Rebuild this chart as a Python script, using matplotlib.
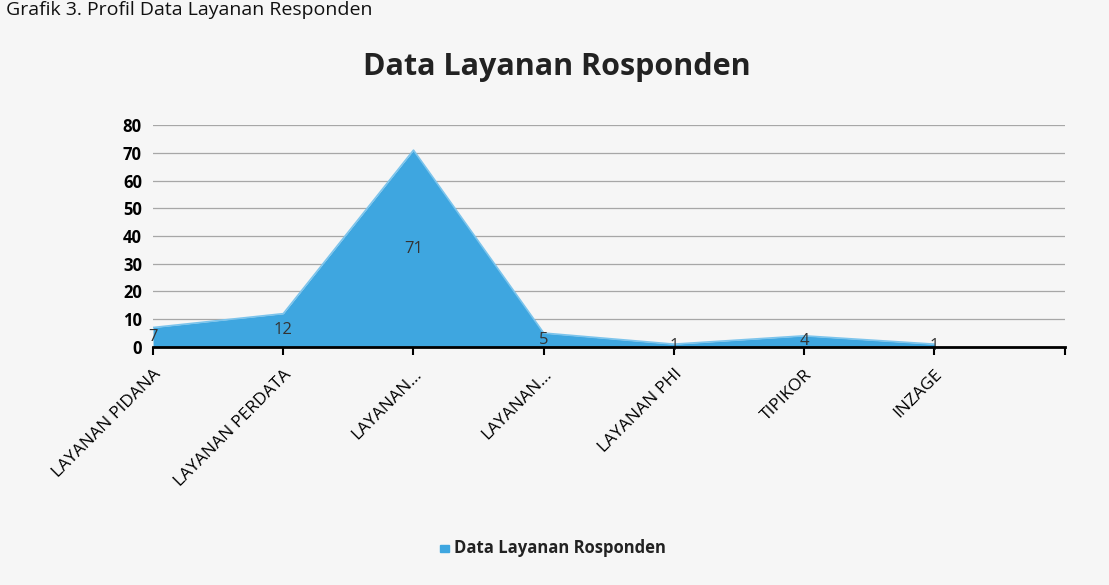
import matplotlib.pyplot as plt
import numpy as np

# data
categories = ['LAYANAN PIDANA', 'LAYANAN PERDATA', 'LAYANAN...', 'LAYANAN...',
              'LAYANAN PHI', 'TIPIKOR', 'INZAGE']
values = [7, 12, 71, 5, 1, 4, 1]
yticks = [0, 10, 20, 30, 40, 50, 60, 70, 80]

plt.rcParams['font.family'] = ['Open Sans', 'DejaVu Sans']

fig = plt.figure(figsize=(11.09, 5.85), dpi=100)
fig.patch.set_facecolor('#f6f6f6')
ax = fig.add_axes([0.138, 0.407, 0.822, 0.379])
ax.set_facecolor('#f6f6f6')

x = np.arange(len(values))
ax.fill_between(x, values, 0, color='#3ea6e0', linewidth=0, zorder=2)
ax.plot(x, values, color='#7cc4ec', linewidth=1.2, zorder=3)

# value labels sit in the middle of the area height
for xi, v in zip(x, values):
    ax.text(xi, v / 2, str(v), ha='center', va='center', fontsize=12,
            color='#333333', zorder=4)

ax.set_xlim(0, len(values))
ax.set_ylim(0, 80)
ax.set_yticks(yticks)
ax.set_yticklabels([str(t) for t in yticks], fontsize=12, fontweight='bold')
for t in yticks[1:]:
    ax.axhline(t, color='#666666', linewidth=0.9, alpha=0.55, zorder=1)

ax.set_xticks(list(x) + [len(values)])
ax.set_xticklabels(categories + [''], rotation=45, ha='right',
                   rotation_mode='anchor', fontsize=12.5)
ax.tick_params(axis='x', length=6, width=1.5, color='black', pad=8)
ax.tick_params(axis='y', length=0, pad=8)

for side in ['top', 'right', 'left']:
    ax.spines[side].set_visible(False)
ax.spines['bottom'].set_linewidth(2)
ax.spines['bottom'].set_zorder(5)

fig.text(0.502, 0.885, 'Data Layanan Rosponden', ha='center', va='center',
         fontsize=22, fontweight='bold', color='#222222')
fig.text(0.005, 0.998, 'Grafik 3. Profil Data Layanan Responden', ha='left',
         va='top', fontsize=14, color='#111111')

# legend
fig.patches.append(plt.Rectangle((0.397, 0.057), 0.008, 0.012, color='#3ea6e0',
                                 transform=fig.transFigure, figure=fig))
fig.text(0.409, 0.063, 'Data Layanan Rosponden', ha='left', va='center',
         fontsize=12, fontweight='bold', color='#222222')

fig.savefig('out.png', dpi=100, facecolor=fig.get_facecolor())
